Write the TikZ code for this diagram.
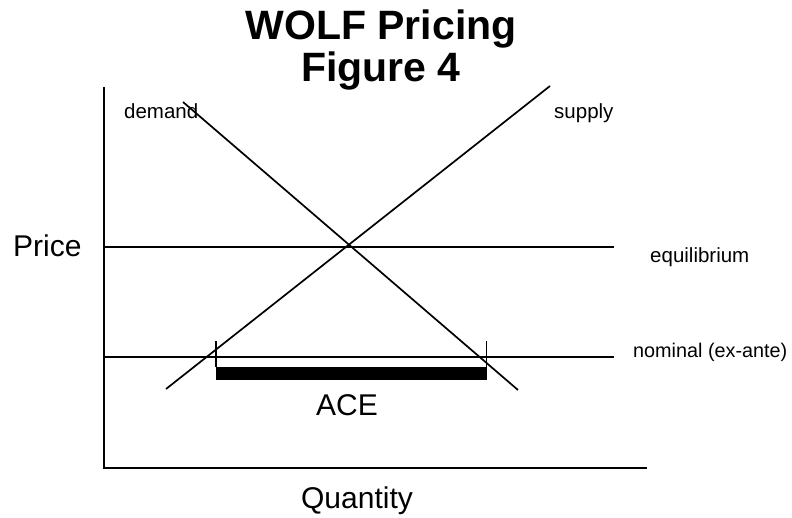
\documentclass[tikz,border=0pt]{standalone}
\usepackage{fontspec}
\setmainfont{Liberation Sans}
\begin{document}
\begin{tikzpicture}[x=1pt,y=-1pt,
  line join=miter,
  axisline/.style={line width=2pt},
  curve/.style={line width=1.7pt},
  level/.style={line width=1.8pt},
  tick/.style={line width=1.6pt},
  acebar/.style={line width=13pt},
  ttl/.style={font=\fontsize{41}{44}\selectfont\bfseries, inner sep=0pt, anchor=base},
  axlabel/.style={font=\fontsize{30}{34}\selectfont, inner sep=0pt},
  small/.style={font=\fontsize{20.5}{24}\selectfont, inner sep=0pt, anchor=base west}]
  \useasboundingbox (0,0) rectangle (792,518);

  % title
  \node[ttl] (title1) at (381,40) {WOLF Pricing};
  \node[ttl] (title2) at (381,82) {Figure 4};

  % axes
  \coordinate (ytop) at (104,87);
  \coordinate (origin) at (104,468);
  \coordinate (xend) at (647,468);
  \draw[axisline] (ytop) -- (origin) -- (xend);
  \node[axlabel, anchor=base west] (price) at (13,257) {Price};
  \node[axlabel, anchor=base] (quantity) at (357,508) {Quantity};

  % price levels
  \coordinate (eqL) at (104,247);
  \coordinate (eqR) at (614,247);
  \coordinate (nomL) at (104,357);
  \coordinate (nomR) at (614,357);
  \draw[level] (eqL) -- (eqR);
  \draw[level] (nomL) -- (nomR);

  % demand and supply
  \coordinate (dTop) at (183,102);
  \coordinate (dBot) at (518,390);
  \coordinate (sBot) at (166,389);
  \coordinate (sTop) at (550,86);
  \draw[curve] (dTop) -- (dBot);
  \draw[curve] (sBot) -- (sTop);

  % ACE span between the two crossings of the nominal price
  \coordinate (aceL) at (216,341);
  \coordinate (aceR) at (486.5,341);
  \coordinate (barL) at (216,373.5);
  \coordinate (barR) at (487,373.5);
  \draw[tick] (aceL) -- (216,367);
  \draw[tick] (aceR) -- (486.5,367);
  \draw[acebar] (barL) -- (barR);
  \node[axlabel, anchor=base] (ace) at (347,415) {ACE};

  % curve and level labels
  \node[small] (demand) at (124,119) {demand};
  \node[small] (supply) at (554,119) {supply};
  \node[small] (equilibrium) at (650,263) {equilibrium};
  \node[small, font=\fontsize{19.8}{24}\selectfont] (nominal) at (633,357) {nominal (ex-ante)};
\end{tikzpicture}
\end{document}
